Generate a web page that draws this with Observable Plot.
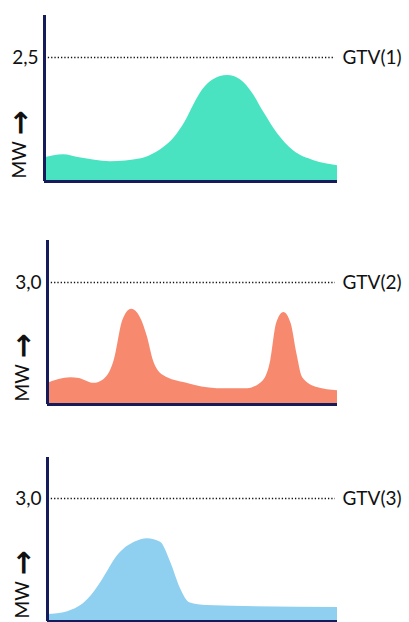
<!DOCTYPE html>
<html><head><meta charset="utf-8">
<script src="https://cdn.jsdelivr.net/npm/d3@7"></script>
<script src="https://cdn.jsdelivr.net/npm/@observablehq/plot@0.6"></script>
<style>
body{margin:0;background:#fff;font-family:Lato,sans-serif;}
#c svg{display:block;}
</style></head><body><div id="c"></div>
<script>
// Panel 1 (GTV(1))
const t1 = [0, 6.5, 12, 22.5, 33, 37, 41, 44.5, 48, 51, 54, 57.5, 62.5, 67, 71, 75, 79.5, 85, 92, 100];
const v1 = [0.48, 0.54, 0.48, 0.40, 0.46, 0.55, 0.70, 0.90, 1.20, 1.55, 1.85, 2.05, 2.14, 2.05, 1.78, 1.38, 0.97, 0.62, 0.42, 0.32];
// Panel 2 (GTV(2))
const t2 = [0, 8, 11, 16, 19, 23, 26, 29, 32, 34.5, 36.5, 40, 48, 58.5, 69, 74.5, 77, 79, 81.5, 84, 86, 88, 93, 100];
const v2 = [0.52, 0.66, 0.64, 0.52, 0.59, 1.08, 2.07, 2.34, 2.14, 1.65, 1.08, 0.71, 0.52, 0.39, 0.39, 0.59, 1.08, 1.99, 2.26, 1.99, 1.25, 0.66, 0.42, 0.34];
// Panel 3 (GTV(3))
const t3 = [0, 7, 14, 19, 24, 30, 34.5, 39, 42.5, 46, 49, 55, 100];
const v3 = [0.17, 0.24, 0.54, 1.02, 1.59, 1.93, 2.02, 1.93, 1.44, 0.78, 0.46, 0.39, 0.34];

const thresholds = [2.5, 3.0, 3.0];
const thresholdLabels = ["2,5", "3,0", "3,0"];
const gtvLabels = ["GTV(1)", "GTV(2)", "GTV(3)"];
const fills = ["#4ae3c2", "#f7896e", "#8fcff0"];
const yLabel = "MW";

const panels = [
  {t: t1, v: v1, h: 200, mt: 15, mb: 19, ml: 44, ytop: 3.35, ys: 2.5 / 124},
  {t: t2, v: v2, h: 220, mt: 40, mb: 16, ml: 47, ytop: 4.03, ys: 3 / 122},
  {t: t3, v: v3, h: 202, mt: 37, mb: 1, ml: 47, ytop: 4.0, ys: 3 / 123}
];

const navy = "#161b5c";
const root = document.getElementById("c");
panels.forEach((p, i) => {
  const data = p.t.map((t, j) => ({t, v: p.v[j]}));
  const thr = thresholds[i];
  const plot = Plot.plot({
    width: 409,
    height: p.h,
    marginTop: p.mt,
    marginBottom: p.mb,
    marginLeft: p.ml,
    marginRight: 72,
    style: {fontFamily: "Lato, sans-serif", background: "#fff"},
    x: {domain: [0, 100], axis: null},
    y: {domain: [0, p.ytop], axis: null},
    marks: [
      Plot.areaY(data, {x: "t", y: "v", fill: fills[i], curve: "monotone-x"}),
      Plot.ruleY([thr], {x1: 1.3, x2: 99.3, stroke: "#111", strokeWidth: 1.5, strokeDasharray: "1.3,2"}),
      Plot.ruleX([0], {y1: 0, y2: p.ytop, stroke: navy, strokeWidth: 3}),
      Plot.ruleY([0], {x1: 0, x2: 100, stroke: navy, strokeWidth: 3}),
      Plot.text([thresholdLabels[i]], {x: 0, y: thr, dx: -6, textAnchor: "end", fontSize: 19, fill: "#111"}),
      Plot.text([gtvLabels[i]], {x: 100, y: thr, dx: 5, textAnchor: "start", fontSize: 19, fill: "#111"}),
      Plot.text([yLabel], {x: 0, y: p.ys * 3, dx: -25, rotate: -90, textAnchor: "start", fontSize: 19, fill: "#111"}),
      Plot.text(["→"], {x: 0, y: p.ys * 46, dx: -24, rotate: -90, textAnchor: "start", fontSize: 30, fontWeight: "bold", fontFamily: "DejaVu Sans", fill: "#111"})
    ]
  });
  root.appendChild(plot);
});
</script></body></html>
